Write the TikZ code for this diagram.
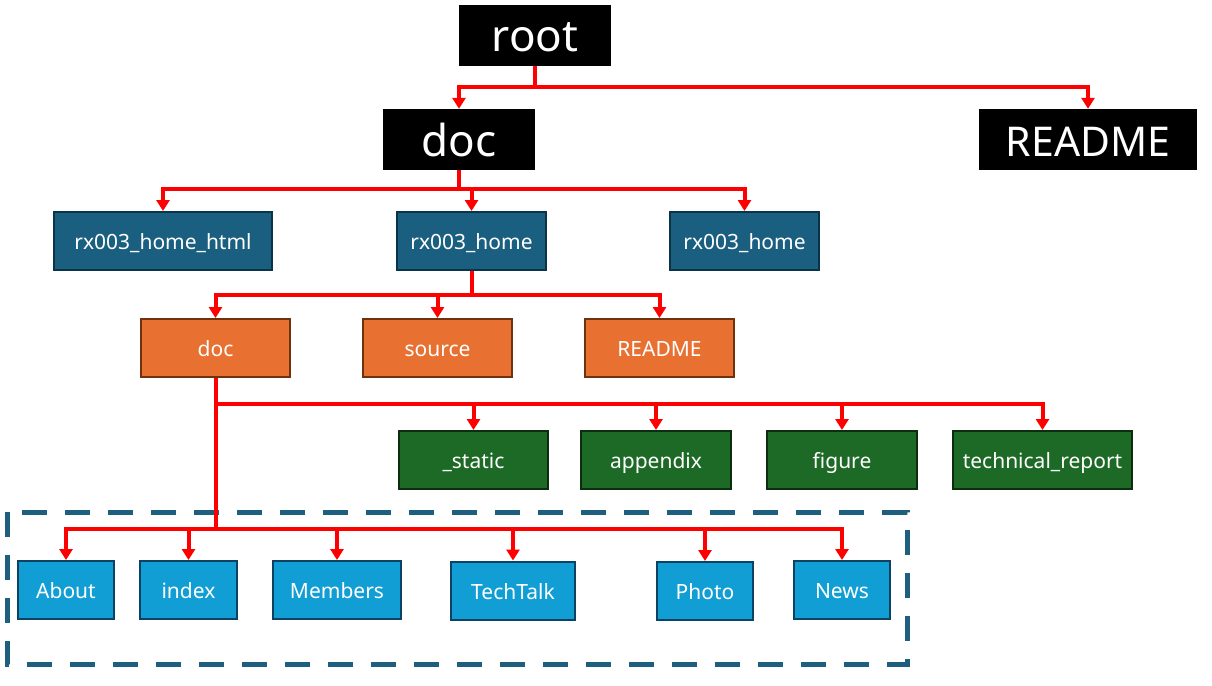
\documentclass[tikz,border=0pt]{standalone}
\usepackage{fontspec}
\setmainfont{Noto Sans}
\usetikzlibrary{arrows.meta}
\definecolor{dblue}{RGB}{27,95,128}
\definecolor{dblueb}{RGB}{12,52,72}
\definecolor{orng}{RGB}{232,113,50}
\definecolor{orngb}{RGB}{110,50,15}
\definecolor{grn}{RGB}{29,106,38}
\definecolor{grnb}{RGB}{12,45,16}
\definecolor{lblue}{RGB}{17,158,212}
\definecolor{lblueb}{RGB}{12,66,98}
\definecolor{dashc}{RGB}{30,94,126}
\tikzset{
  blackbox/.style={fill=black, text=white, inner sep=0pt, minimum height=61pt, text height=33pt, text depth=0pt, font=\fontsize{44}{48}\selectfont},
  box/.style={draw, line width=2pt, text=white, inner sep=0pt, minimum height=58pt, text height=17pt, text depth=0pt, font=\fontsize{21}{24}\selectfont},
  dbox/.style={box, fill=dblue, draw=dblueb},
  obox/.style={box, fill=orng, draw=orngb},
  gbox/.style={box, fill=grn, draw=grnb},
  lbox/.style={box, fill=lblue, draw=lblueb},
  wire/.style={draw=red, line width=4pt},
  arr/.style={wire, -{Triangle[width=13pt,length=11pt]}},
  groupbox/.style={draw=dashc, line width=5pt, dash pattern=on 25pt off 18pt}
}
\begin{document}
\begin{tikzpicture}[x=1pt,y=-1pt]
\useasboundingbox (0,0) rectangle (1212,685);
% nodes
\node[blackbox, minimum width=152pt] (root) at (535,35.5) {root};
\node[blackbox, minimum width=152pt] (doc) at (459,139.5) {doc};
\node[blackbox, minimum width=218pt, font=\fontsize{41}{44}\selectfont] (readme) at (1088,139.5) {README};
\node[dbox, minimum width=218pt] (rxhtml) at (163,241) {rx003\_home\_html};
\node[dbox, minimum width=149pt] (rxmid) at (471.5,241) {rx003\_home};
\node[dbox, minimum width=149pt] (rxright) at (744.5,241) {rx003\_home};
\node[obox, minimum width=149pt] (odoc) at (215.5,348) {doc};
\node[obox, minimum width=149pt] (source) at (437.5,348) {source};
\node[obox, minimum width=149pt] (oreadme) at (659.5,348) {README};
\node[gbox, minimum width=149pt] (static) at (473.5,460) {\_static};
\node[gbox, minimum width=150pt] (appendix) at (656,460) {appendix};
\node[gbox, minimum width=150pt] (figure) at (842,460) {figure};
\node[gbox, minimum width=179pt] (techrep) at (1042.5,460) {technical\_report};
\node[lbox, minimum width=96pt] (about) at (66,590) {About};
\node[lbox, minimum width=97pt] (index) at (188.5,590) {index};
\node[lbox, minimum width=128pt] (members) at (337,590) {Members};
\node[lbox, minimum width=124pt] (techtalk) at (513,590.5) {TechTalk};
\node[lbox, minimum width=96pt] (photo) at (705,591) {Photo};
\node[lbox, minimum width=96pt] (news) at (842,590) {News};
% dashed group
\draw[groupbox] (7,512) rectangle (907,664);
% connectors
\coordinate (j1) at (535,87);
\draw[wire] (root.south) -- (j1);
\draw[arr] (j1) -| (doc.north);
\draw[arr] (j1) -| (readme.north);
\coordinate (j2) at (459,189);
\draw[wire] (doc.south) -- (j2);
\draw[arr] (j2) -| (rxhtml.north);
\draw[arr] (j2) -| (rxmid.north);
\draw[arr] (j2) -| (rxright.north);
\coordinate (j3) at (471.5,295);
\draw[wire] (rxmid.south) -- (j3);
\draw[arr] (j3) -| (odoc.north);
\draw[arr] (j3) -| (source.north);
\draw[arr] (j3) -| (oreadme.north);
\coordinate (j4) at (215.5,404);
\coordinate (j5) at (215.5,529);
\draw[wire] (odoc.south) -- (j5);
\draw[arr] (j4) -| (static.north);
\draw[arr] (j4) -| (appendix.north);
\draw[arr] (j4) -| (figure.north);
\draw[arr] (j4) -| (techrep.north);
\draw[arr] (j5) -| (about.north);
\draw[arr] (j5) -| (index.north);
\draw[arr] (j5) -| (members.north);
\draw[arr] (j5) -| (techtalk.north);
\draw[arr] (j5) -| (photo.north);
\draw[arr] (j5) -| (news.north);
\end{tikzpicture}
\end{document}
